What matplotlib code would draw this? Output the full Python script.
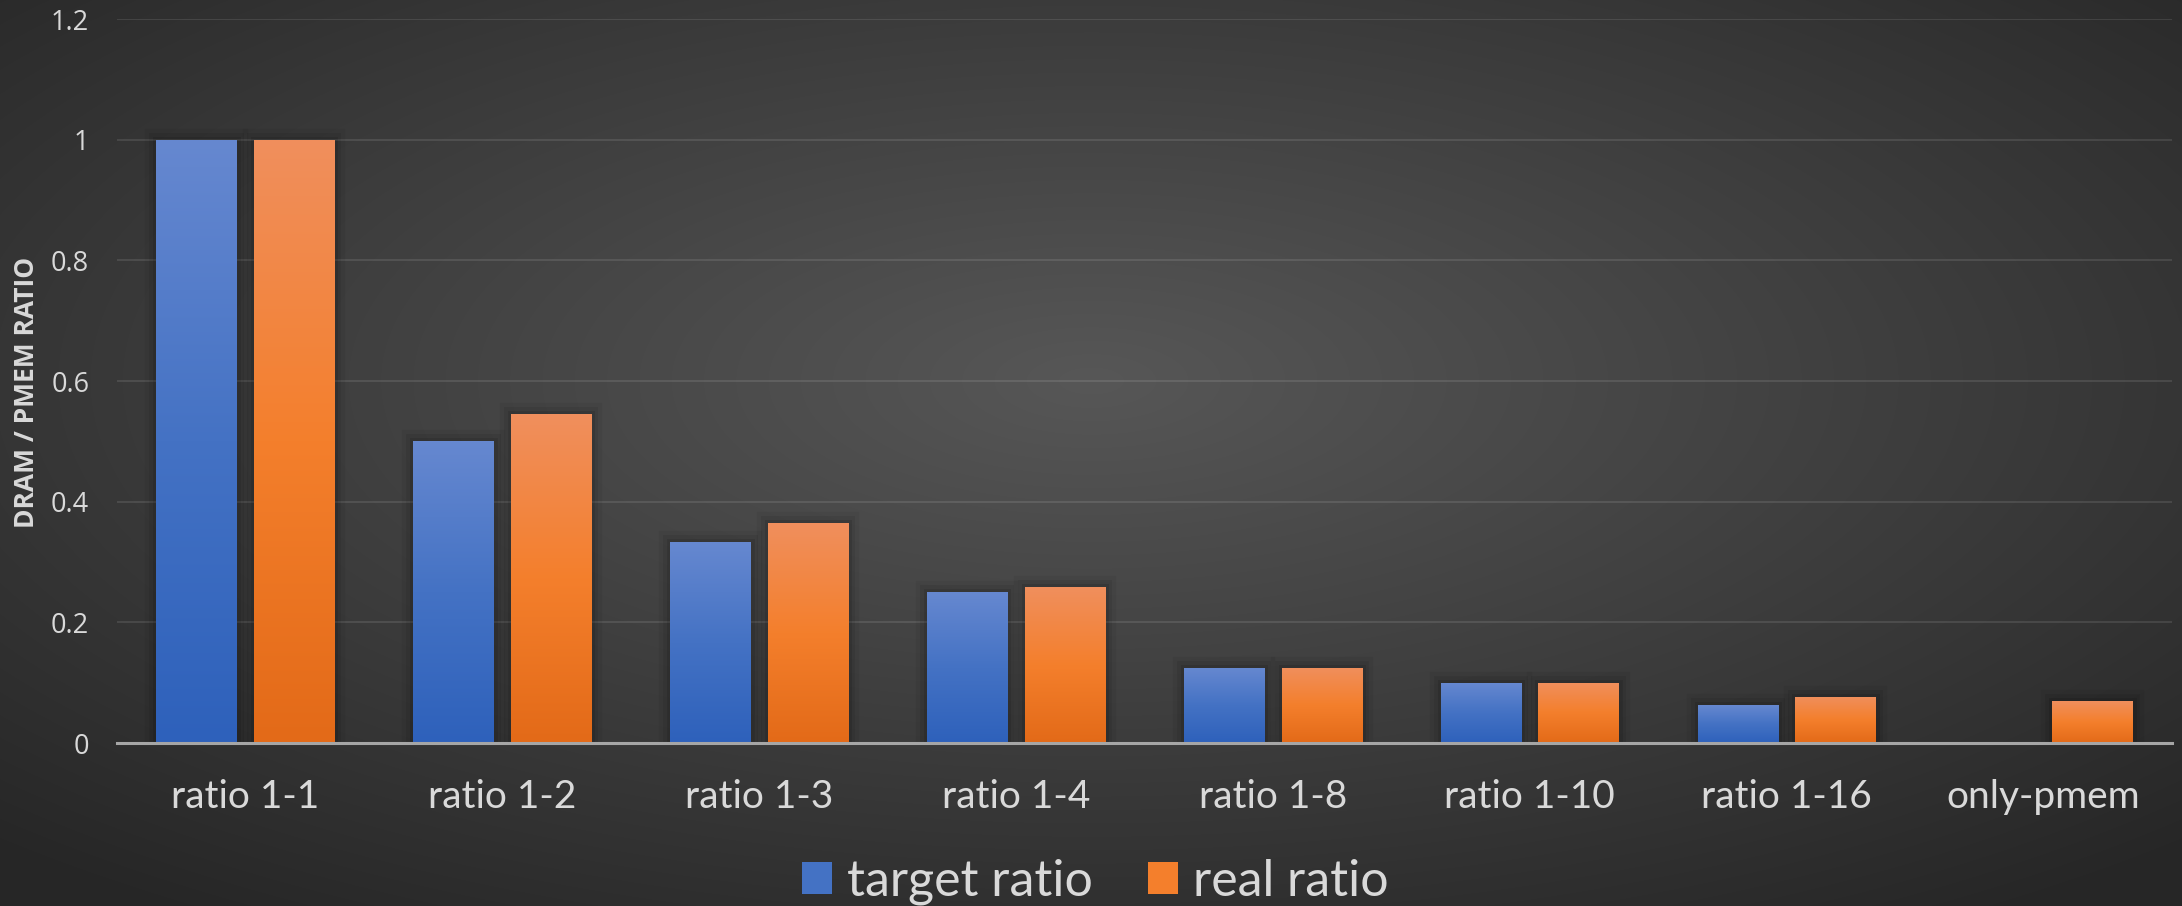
import numpy as np
import matplotlib
matplotlib.use("Agg")
import matplotlib.pyplot as plt
import matplotlib.patheffects as pe
from matplotlib.colors import LinearSegmentedColormap, to_rgb
from matplotlib.patches import Patch

categories = ["ratio 1-1", "ratio 1-2", "ratio 1-3", "ratio 1-4",
              "ratio 1-8", "ratio 1-10", "ratio 1-16", "only-pmem"]
target_ratio = [1.0, 0.5, 0.333, 0.25, 0.125, 0.1, 0.0625, 0.0]
real_ratio = [1.0, 0.545, 0.364, 0.258, 0.125, 0.1, 0.077, 0.069]
yticks = [0, 0.2, 0.4, 0.6, 0.8, 1, 1.2]
ytick_labels = ["0", "0.2", "0.4", "0.6", "0.8", "1", "1.2"]

W, H = 2182, 906
fig = plt.figure(figsize=(W / 100, H / 100), dpi=100)

# radial background
bg = fig.add_axes([0, 0, 1, 1])
bg.set_axis_off()
yy, xx = np.mgrid[0:H, 0:W]
r = np.sqrt(((xx - W * 0.5) / (W * 0.5)) ** 2 + ((yy - H * 0.42) / (H * 0.5)) ** 2)
t = np.clip(r / 1.45, 0, 1)[..., None]
c_in = np.array(to_rgb("#575757"))
c_out = np.array(to_rgb("#262626"))
bg.imshow(c_in * (1 - t) + c_out * t, aspect="auto", extent=[0, 1, 0, 1])
bg.set_xlim(0, 1)
bg.set_ylim(0, 1)

ax = fig.add_axes([117 / W, 163 / H, (2172 - 117) / W, 724 / H])
ax.set_facecolor("none")

x = np.arange(len(categories))
bw = 0.313
off = 0.19

blue_cmap = LinearSegmentedColormap.from_list("b", ["#2e61bb", "#4472c4", "#6688d0"])
orange_cmap = LinearSegmentedColormap.from_list("o", ["#e36a18", "#f47f2c", "#f08f5d"])
grad = np.linspace(0, 1, 256)[:, None]

shadow = [pe.Stroke(linewidth=16, foreground="black", alpha=0.05),
          pe.Stroke(linewidth=10, foreground="black", alpha=0.07),
          pe.Stroke(linewidth=5, foreground="black", alpha=0.1),
          pe.Normal()]

for vals, dx, cmap in [(target_ratio, -off, blue_cmap), (real_ratio, off, orange_cmap)]:
    bars = ax.bar(x + dx, vals, width=bw, facecolor="none", edgecolor="none", zorder=2)
    for b in bars:
        h = b.get_height()
        if h <= 0:
            continue
        b.set_path_effects(shadow)
        b.set_edgecolor((0, 0, 0, 0.0))
        x0 = b.get_x()
        im = ax.imshow(grad, cmap=cmap, origin="lower", aspect="auto",
                       extent=[x0, x0 + b.get_width(), 0, h], zorder=3)
        im.set_clip_path(b)

ax.set_xlim(-0.5, len(categories) - 0.5)
ax.set_ylim(0, 1.2)

ax.set_yticks(yticks)
ax.set_yticklabels(ytick_labels, fontfamily="Open Sans", fontsize=19.5, color="#d9d9d9")
ax.set_xticks(x)
ax.set_xticklabels(categories, fontfamily="Lato", fontsize=28, color="#d9d9d9")
ax.tick_params(axis="y", length=0, pad=20)
ax.tick_params(axis="x", length=0, pad=26)

ax.grid(axis="y", color="white", alpha=0.1, linewidth=1.5, zorder=0)
ax.set_axisbelow(True)
for s in ["top", "right", "left"]:
    ax.spines[s].set_visible(False)
ax.spines["bottom"].set_color("#a6a6a6")
ax.spines["bottom"].set_linewidth(2.2)
ax.spines["bottom"].set_zorder(4)

fig.text(27 / W, 1 - 392 / H, "DRAM / PMEM RATIO", rotation=90, ha="center", va="center",
         fontfamily="Open Sans", fontweight="bold", fontsize=19, color="#d9d9d9")

handles = [Patch(facecolor="#4472c4", label="target ratio"),
           Patch(facecolor="#f47f2c", label="real ratio")]
leg = fig.legend(handles=handles, loc="center", bbox_to_anchor=(0.502, 24 / H), ncol=2,
                 frameon=False, prop={"family": "Lato", "size": 36},
                 handlelength=0.6, handleheight=0.62, handletextpad=0.3,
                 columnspacing=1.1, borderpad=0)
for txt in leg.get_texts():
    txt.set_color("#d9d9d9")

fig.savefig("out.png", dpi=100)
